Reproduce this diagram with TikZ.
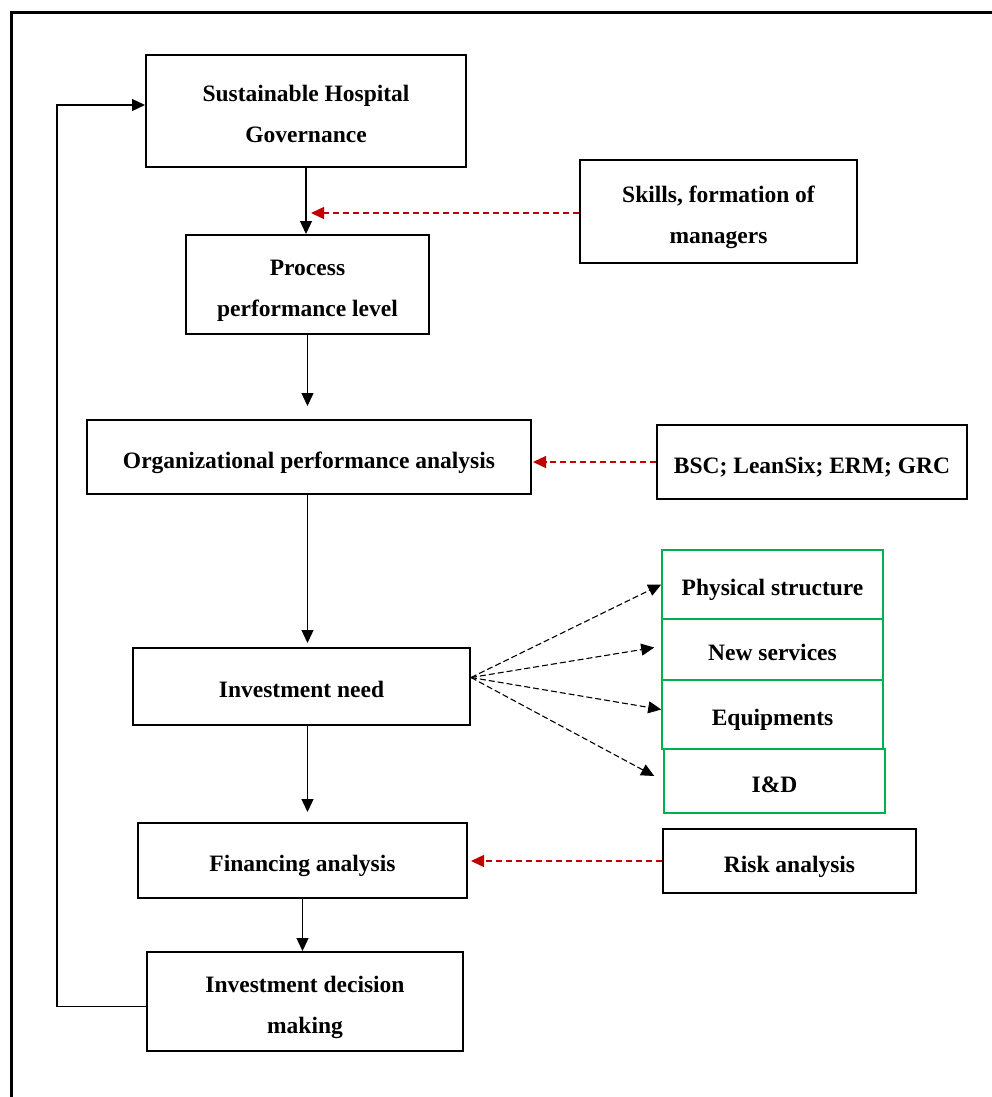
\documentclass[tikz,border=0pt]{standalone}
\usepackage{fontspec}
\setmainfont{Liberation Serif}
\usepackage{tikz}
\usetikzlibrary{arrows.meta, positioning, calc}
\definecolor{linkred}{RGB}{192,0,0}
\definecolor{boxgreen}{RGB}{0,176,80}

\begin{document}
\begin{tikzpicture}[x=1pt, y=-1pt, font=\fontsize{23.5}{41}\selectfont\bfseries,
    every node/.style={align=center, inner sep=0pt},
    oneline/.style={text height=22.5pt, text depth=0pt},
    twoline/.style={text height=63pt, text depth=0pt},
    box/.style={draw, line width=2pt},
    greenbox/.style={draw=boxgreen, line width=1.6pt, minimum width=221pt, oneline},
    flow/.style={-{Triangle[length=13pt, width=12pt]}, line width=1.3pt},
    link/.style={-{Triangle[length=13pt, width=12pt]}, linkred, line width=1.3pt, dash pattern=on 6pt off 4pt},
    fan/.style={-{Triangle[length=13pt, width=12pt]}, line width=1.1pt, dash pattern=on 6pt off 3pt}]
    \useasboundingbox (0,0) rectangle (991,1097);
    \draw[line width=3pt] (1010,13) -- (11,13) -- (11,1110);

    % main chain
    \node[box, twoline, minimum width=320pt, minimum height=112pt] (gov) at (306,111) {Sustainable Hospital\\Governance};
    \node[box, twoline, minimum width=243pt, minimum height=99pt] (proc) at (307.5,284.5) {Process\\performance level};
    \node[box, oneline, minimum width=444pt, minimum height=74pt] (org) at (309,457) {Organizational performance analysis};
    \node[box, oneline, minimum width=337pt, minimum height=77pt] (inv) at (301.5,686.5) {Investment need};
    \node[box, oneline, minimum width=329pt, minimum height=75pt] (fin) at (302.5,860.5) {Financing analysis};
    \node[box, twoline, minimum width=316pt, minimum height=99pt] (dec) at (305,1001.5) {Investment decision\\making};

    % inputs on the right
    \node[box, twoline, minimum width=277pt, minimum height=103pt] (skills) at (718.5,211.5) {Skills, formation of\\managers};
    \node[box, oneline, minimum width=310pt, minimum height=74pt] (bsc) at (812,462) {BSC; LeanSix; ERM; GRC};
    \node[box, oneline, minimum width=253pt, minimum height=64pt] (risk) at (789.5,861) {Risk analysis};

    % investment types
    \node[greenbox, minimum height=69pt] (phys) at (772.5,584.5) {Physical structure};
    \node[greenbox, minimum height=61pt] (new) at (772.5,649.5) {New services};
    \node[greenbox, minimum height=69pt] (equip) at (772.5,714.5) {Equipments};
    \node[greenbox, minimum height=64pt] (iad) at (774.5,781) {I\&D};

    \draw[flow] (gov.south) -- (gov.south |- proc.north);
    \draw[flow, shorten >=13pt] (proc.south) -- (proc.south |- org.north);
    \draw[flow, shorten >=4pt] (proc.south |- org.south) -- (proc.south |- inv.north);
    \draw[flow, shorten >=10pt] (proc.south |- inv.south) -- (proc.south |- fin.north);
    \draw[flow] (fin.south) -- (fin.south |- dec.north);
    \draw[flow] ([yshift=-5pt]dec.west) -- ++(-89,0) |- ([yshift=6pt]gov.west);

    \draw[link] ([yshift=-1.5pt]skills.west) -- ($(skills.west -| gov.south)+(5,1.5)$);
    \draw[link] (bsc.west) -- ($(bsc.west -| org.east)+(1,0)$);
    \draw[link, shorten >=3pt] (risk.west) -- (risk.west -| fin.east);

    \coordinate (fan) at ($(inv.east)+(0,-9)$);
    \draw[fan] (fan) -- (phys.west);
    \draw[fan] (fan) -- ($(new.west)+(-7,-2)$);
    \draw[fan] (fan) -- ($(equip.west)+(0,-5)$);
    \draw[fan] (fan) -- ($(iad.west)+(-9,-5)$);
\end{tikzpicture}
\end{document}
